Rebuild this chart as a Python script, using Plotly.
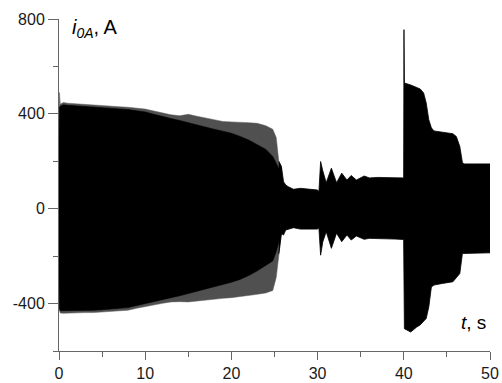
import plotly.graph_objects as go

# ---- data (envelope of the current signal i0A) ----
# early part (0 .. 25.8 s): outer envelope (spiky, partly grey) and dense core
t_early = [0, 0.05, 0.15, 0.5, 1, 2, 3, 4, 5, 6, 7, 8, 9, 10, 11, 12, 13, 14, 15,
           16, 17, 18, 19, 20, 21, 22, 23, 24, 24.8, 25.2, 25.5, 25.8]
upper_early = [300, 490, 440, 448, 445, 442, 440, 438, 436, 432, 430, 428, 425, 420,
               412, 404, 396, 392, 398, 390, 383, 375, 368, 366, 366, 363, 360, 350,
               335, 300, 200, 178]
lower_early = [-300, -430, -440, -441, -442, -440, -438, -438, -436, -434, -431, -428,
               -420, -411, -405, -399, -393, -392, -393, -390, -386, -382, -378, -375,
               -372, -366, -361, -355, -345, -290, -190, -105]
core_upper_early = [295, 430, 432, 438, 436, 434, 432, 430, 428, 424, 421, 418, 414,
                    408, 398, 388, 380, 372, 362, 352, 344, 335, 327, 318, 305, 290,
                    270, 250, 220, 190, 170, 170]
core_lower_early = [-295, -422, -430, -432, -432, -431, -429, -428, -426, -424, -420,
                    -417, -410, -400, -392, -383, -375, -367, -358, -348, -338, -328,
                    -320, -310, -298, -282, -262, -240, -220, -180, -140, -100]

# late part (25.5 .. 50 s)
t_late = [25.5, 25.8, 26.05, 26.3, 26.6, 27.2, 28, 29, 30, 30.15, 30.35, 30.6, 31.0,
          31.6, 32.2, 32.8, 33.4, 33.9, 34.5, 35.4, 36, 37, 38, 39, 39.98, 40.02, 40.07,
          40.8, 41.5, 41.9, 42.3, 42.6, 42.9, 43.2, 43.5, 44.5, 45.7, 46.1, 46.5, 46.8,
          47.0, 48, 49, 50]
upper_late = [200, 178, 114, 100, 93, 82, 86, 83, 79, 70, 199, 160, 110, 171, 110, 150,
              121, 140, 121, 138, 130, 132, 132, 130, 130, 755, 530, 522, 510, 505, 488,
              446, 375, 341, 328, 322, 316, 304, 262, 195, 189, 189, 189, 189]
lower_late = [-190, -105, -111, -90, -85, -80, -86, -86, -86, -80, -196, -140, -97, -167,
              -103, -139, -111, -132, -115, -129, -125, -126, -126, -128, -130, -130,
              -506, -520, -499, -490, -475, -463, -414, -330, -322, -315, -308, -290,
              -273, -189, -186, -186, -186, -186]

x_ticks = [0, 10, 20, 30, 40, 50]
x_labels = ["0", "10", "20", "30", "40", "50"]
y_ticks = [-400, 0, 400, 800]
y_labels = ["-400", "0", "400", "800"]


def band(t, up, lo, color, lw, lc):
    return go.Scatter(
        x=list(t) + list(reversed(t)),
        y=list(up) + list(reversed(lo)),
        fill="toself", fillcolor=color, mode="lines",
        line=dict(color=lc, width=lw), hoverinfo="skip", showlegend=False)


fig = go.Figure()
fig.add_trace(band(t_early, upper_early, lower_early, "#505050", 0.5, "#5a5a5a"))
fig.add_trace(band(t_early, core_upper_early, core_lower_early, "#000000", 0.6, "#000000"))
fig.add_trace(band(t_late, upper_late, lower_late, "#000000", 0.8, "#000000"))

axis_font = dict(family="Liberation Sans, Arial, sans-serif", size=16, color="#1a1a1a")
fig.update_xaxes(range=[0, 50], tickvals=x_ticks, ticktext=x_labels, ticks="outside",
                 ticklen=8, tickcolor="#666", showline=True, linecolor="#666", linewidth=1,
                 showgrid=False, zeroline=False, tickfont=axis_font, automargin=False,
                 minor=dict(ticks="outside", ticklen=5, dtick=5, tick0=0, tickcolor="#666"))
fig.update_yaxes(range=[-600, 800], tickvals=y_ticks, ticktext=y_labels, ticks="outside",
                 ticklen=10, tickcolor="#666", showline=True, linecolor="#666", linewidth=1,
                 showgrid=False, zeroline=False, tickfont=axis_font, automargin=False,
                 minor=dict(ticks="outside", ticklen=5, dtick=200, tick0=0, tickcolor="#666"))

fig.add_annotation(xref="paper", yref="paper", x=0.025, y=0.972, xanchor="left",
                   yanchor="middle", showarrow=False,
                   text="<i>i</i><sub><i>0A</i></sub>, A",
                   font=dict(family="Liberation Sans, Arial, sans-serif", size=20, color="#000"))
fig.add_annotation(xref="paper", yref="paper", x=0.995, y=0.085, xanchor="right",
                   yanchor="middle", showarrow=False,
                   text="<i>t</i>, s",
                   font=dict(family="Liberation Sans, Arial, sans-serif", size=19, color="#000"))

fig.update_layout(width=502, height=383, margin=dict(l=59, r=12, t=19, b=32),
                  plot_bgcolor="white", paper_bgcolor="white")

fig.write_html("out.html")
